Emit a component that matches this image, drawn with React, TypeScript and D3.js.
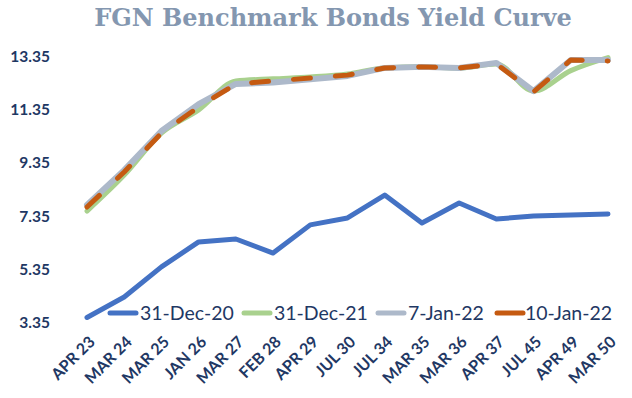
import React from "react";
import * as d3 from "d3";

const categories = [
  "APR 23", "MAR 24", "MAR 25", "JAN 26", "MAR 27", "FEB 28", "APR 29", "JUL 30",
  "JUL 34", "MAR 35", "MAR 36", "APR 37", "JUL 45", "APR 49", "MAR 50",
];

const dec20 = [3.54, 4.31, 5.44, 6.38, 6.49, 5.96, 7.02, 7.28, 8.14, 7.09, 7.84, 7.24, 7.35, 7.39, 7.43];
const dec21 = [7.54, 8.89, 10.47, 11.34, 12.43, 12.51, 12.58, 12.69, 12.92, 12.96, 12.92, 13.07, 12.05, 12.82, 13.31];
const jan7 = [7.77, 9.08, 10.55, 11.56, 12.32, 12.37, 12.49, 12.62, 12.92, 12.96, 12.92, 13.11, 12.05, 13.22, 13.22];
const jan10 = [7.69, 9.01, 10.47, 11.45, 12.32, 12.43, 12.54, 12.65, 12.92, 12.96, 12.92, 13.07, 12.02, 13.22, 13.18];

const yTicks = [3.35, 5.35, 7.35, 9.35, 11.35, 13.35];

const seriesNames = ["31-Dec-20", "31-Dec-21", "7-Jan-22", "10-Jan-22"];

const W = 632;
const H = 398;
const navy = "#1F3864";

export default function App() {
  const x = d3.scalePoint<string>().domain(categories).range([87, 608]);
  const y = d3.scaleLinear().domain([3.35, 13.35]).range([322.5, 56.5]);

  const mk = (curve: d3.CurveFactory) =>
    d3
      .line<number>()
      .x((_, i) => x(categories[i]) as number)
      .y((d) => y(d))
      .curve(curve);

  const series = [
    { name: seriesNames[1], values: dec21, color: "#A9D18E", width: 5, dash: undefined, curve: d3.curveMonotoneX },
    { name: seriesNames[2], values: jan7, color: "#ADB9CA", width: 6, dash: undefined, curve: d3.curveLinear },
    { name: seriesNames[3], values: jan10, color: "#C55A11", width: 5, dash: "17 25", curve: d3.curveLinear },
    { name: seriesNames[0], values: dec20, color: "#4472C4", width: 5, dash: undefined, curve: d3.curveLinear },
  ];

  const legend = [
    { name: seriesNames[0], color: "#4472C4", x0: 110 },
    { name: seriesNames[1], color: "#A9D18E", x0: 244 },
    { name: seriesNames[2], color: "#ADB9CA", x0: 378 },
    { name: seriesNames[3], color: "#C55A11", x0: 497 },
  ];

  return (
    <svg width={W} height={H} style={{ position: "absolute", left: 0, top: 0, background: "#fff" }}>
      <rect width={W} height={H} fill="#fff" />
      <text
        x={333}
        y={26}
        textAnchor="middle"
        fontFamily="'DejaVu Serif', serif"
        fontWeight="bold"
        fontSize={24}
        fill="#8497B0"
      >
        FGN Benchmark Bonds Yield Curve
      </text>

      {yTicks.map((t) => (
        <text
          key={t}
          x={50}
          y={y(t)}
          dy="0.35em"
          textAnchor="end"
          fontFamily="Lato, sans-serif"
          fontWeight="bold"
          fontSize={15.5}
          fill={navy}
        >
          {t.toFixed(2)}
        </text>
      ))}

      {categories.map((c) => (
        <text
          key={c}
          transform={`translate(${(x(c) as number) + 5},${339}) rotate(-45)`}
          textAnchor="end"
          dy="0.35em"
          fontFamily="Lato, sans-serif"
          fontWeight="bold"
          fontSize={16}
          fill={navy}
        >
          {c}
        </text>
      ))}

      {series.map((s) => (
        <path
          key={s.name}
          d={mk(s.curve)(s.values) ?? ""}
          fill="none"
          stroke={s.color}
          strokeWidth={s.width}
          strokeDasharray={s.dash}
          strokeLinecap="round"
          strokeLinejoin="round"
        />
      ))}

      {legend.map((l) => (
        <g key={l.name}>
          <line x1={l.x0} x2={l.x0 + 26} y1={313} y2={313} stroke={l.color} strokeWidth={5} strokeLinecap="round" />
          <text
            x={l.x0 + (l.name === "10-Jan-22" ? 28 : 30)}
            y={313}
            dy="0.35em"
            fontFamily="Lato, sans-serif"
            fontSize={19.5}
            fill={navy}
          >
            {l.name}
          </text>
        </g>
      ))}
    </svg>
  );
}
